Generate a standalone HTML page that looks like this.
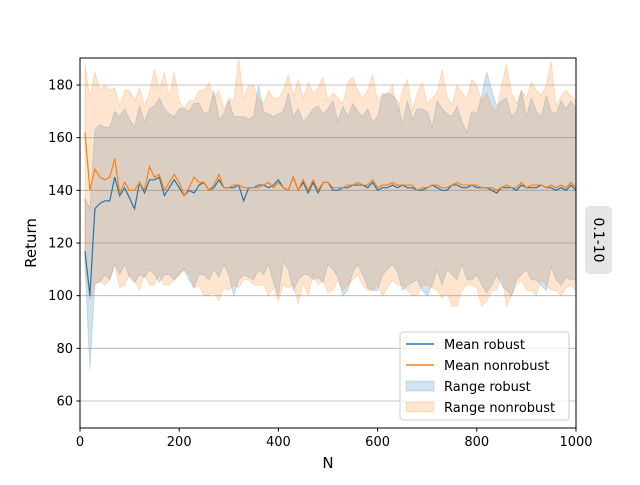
<!DOCTYPE html>
<html><head><meta charset="utf-8"><style>
body{margin:0;background:#fff;}
svg text{font-family:"DejaVu Sans","Liberation Sans",sans-serif;}
</style></head><body>
<svg id="chart" width="640" height="480" viewBox="0 0 640 480" xmlns="http://www.w3.org/2000/svg">
<g id="grid"></g>
<g id="bands"></g>
<g id="lines"></g>
<rect x="80" y="58" width="496" height="370" fill="none" stroke="#000" stroke-width="1"/>
<g id="axes"></g>
<text x="328" y="468" font-size="15" text-anchor="middle">N</text>
<text transform="translate(36,243) rotate(-90)" font-size="15" text-anchor="middle">Return</text>
<g>
<rect x="400" y="332" width="169" height="88" rx="3" fill="#fff" fill-opacity="0.8" stroke="#ccc"/>
<line x1="406" y1="344" x2="434" y2="344" stroke="#1f77b4" stroke-width="1.5"/>
<text x="444" y="349" font-size="13">Mean robust</text>
<line x1="406" y1="365" x2="434" y2="365" stroke="#ff7f0e" stroke-width="1.5"/>
<text x="444" y="370" font-size="13">Mean nonrobust</text>
<rect x="406" y="381" width="28" height="10" fill="#1f77b4" fill-opacity="0.2" stroke="#1f77b4" stroke-opacity="0.2"/>
<text x="444" y="391" font-size="13">Range robust</text>
<rect x="406" y="402" width="28" height="10" fill="#ff7f0e" fill-opacity="0.2" stroke="#ff7f0e" stroke-opacity="0.2"/>
<text x="444" y="412" font-size="13">Range nonrobust</text>
</g>
<g>
<rect x="585" y="206" width="27" height="68" rx="5" fill="#e5e5e5"/>
<text transform="translate(594,240) rotate(90)" font-size="14" text-anchor="middle">0.1-10</text>
</g>
</svg>
<script>
const xTicks=[0,200,400,600,800,1000];
const yTicks=[60,80,100,120,140,160,180];
const meanRobust=[117,100,133,135,136,136,145,138,141,137,133,143,139,144,144,145,138,141,144,141,138,140,139,142,143,140,141,144,141,141,141,142,136,141,141,142,142,141,142,144,141,140,145,140,143,139,143,139,143,143,140,140,141,141,142,142,142,141,143,140,141,141,142,141,142,141,141,140,140,141,142,141,140,140,142,142,141,141,142,141,141,141,140,139,141,141,141,140,142,141,141,141,142,141,141,140,141,140,142,140];
const meanNonrobust=[162,140,148,145,144,145,152,139,143,140,140,143,140,149,145,146,140,143,146,143,138,141,145,143,143,140,142,146,141,141,142,142,141,141,141,141,142,143,141,143,141,140,145,140,144,140,144,140,143,143,141,141,141,142,142,143,142,142,144,141,142,142,143,142,142,142,142,140,141,141,142,142,141,141,142,143,142,142,142,142,141,141,141,140,141,142,141,141,143,141,142,142,142,141,142,141,142,141,143,141];
const upperRobust=[137,133,163,165,164,164,170,168,171,167,164,172,166,171,172,175,171,169,168,171,171,170,173,173,169,170,178,167,169,174,168,168,168,167,168,180,170,169,168,169,170,177,168,171,166,168,171,172,169,171,174,166,172,168,173,170,168,171,166,168,176,177,176,174,165,174,167,171,171,170,164,174,171,169,168,172,166,162,170,169,176,185,178,172,174,175,168,170,178,168,175,170,168,176,170,169,174,171,174,171];
const lowerRobust=[112,72,105,105,108,106,112,108,112,107,105,108,107,110,108,105,108,108,106,108,110,106,103,108,108,106,110,107,112,108,100,106,108,107,106,110,108,112,105,100,113,110,102,106,108,108,106,107,105,112,110,107,100,102,109,112,108,103,102,102,108,110,112,109,102,104,105,106,102,100,104,110,104,110,108,106,112,106,106,108,104,101,104,108,104,102,100,106,108,110,106,106,104,102,111,106,104,107,106,106];
const upperNonrobust=[188,175,185,178,180,178,179,172,178,178,174,179,172,177,186,178,185,175,185,174,171,174,174,178,178,181,175,178,171,175,174,190,175,180,180,175,173,178,175,175,178,184,176,182,175,181,177,179,183,174,177,175,173,181,183,178,175,178,184,174,177,176,180,170,178,182,170,177,181,173,175,177,186,176,172,180,177,175,182,180,174,177,172,170,180,188,177,173,178,175,181,178,176,180,189,172,176,178,176,174];
const lowerNonrobust=[112,98,104,106,104,106,112,103,104,108,106,102,108,104,104,108,104,104,106,108,110,108,103,104,100,100,101,98,103,102,104,103,106,106,104,104,104,100,103,98,104,103,104,97,105,100,108,104,106,101,102,106,102,104,106,108,104,102,102,104,100,103,106,104,104,102,100,100,104,104,103,102,99,101,96,96,102,104,104,103,96,98,102,102,108,96,100,104,106,102,102,100,106,104,102,102,100,103,104,102];
const NS='http://www.w3.org/2000/svg';
const X0=80,X1=576,Y0=401,Y1=85;
const xs=v=>X0+(v/1000)*(X1-X0);
const ys=v=>Y0+(v-60)/(180-60)*(Y1-Y0);
const Ns=meanRobust.map((_,i)=>(i+1)*10);
function mk(tag,attrs,parent){const e=document.createElementNS(NS,tag);for(const k in attrs)e.setAttribute(k,attrs[k]);parent.appendChild(e);return e;}
const grid=document.getElementById('grid'),axes=document.getElementById('axes');
yTicks.forEach(t=>{
  const g=mk('line',{x1:X0,x2:X1,y1:ys(t),y2:ys(t),stroke:'#b0b0b0','stroke-width':0.8},grid);
  
  
  mk('line',{x1:X0-3.5,x2:X0,y1:ys(t),y2:ys(t),stroke:'#000'},axes);
  const tx=mk('text',{x:X0-7,y:ys(t)+4.5,'font-size':13,'text-anchor':'end'},axes);
  tx.textContent=t;
  
  
});
xTicks.forEach(t=>{
  mk('line',{x1:xs(t),x2:xs(t),y1:428,y2:431.5,stroke:'#000'},axes);
  const tx=mk('text',{x:xs(t),y:446,'font-size':13,'text-anchor':'middle'},axes);
  tx.textContent=t;
  
  
});
function band(up,lo,col,name){
  let d='M'+Ns.map((n,i)=>xs(n)+','+ys(up[i])).join('L');
  for(let i=Ns.length-1;i>=0;i--)d+='L'+xs(Ns[i])+','+ys(lo[i]);
  const p=mk('path',{d:d+'Z',fill:col,'fill-opacity':0.2,stroke:col,'stroke-opacity':0.2},document.getElementById('bands'));
  
  
}
band(upperRobust,lowerRobust,'#1f77b4','range-robust');
band(upperNonrobust,lowerNonrobust,'#ff7f0e','range-nonrobust');
function line(vals,col,name){
  const p=mk('polyline',{points:Ns.map((n,i)=>xs(n)+','+ys(vals[i])).join(' '),fill:'none',stroke:col,'stroke-width':1.2},document.getElementById('lines'));
  
  
}
line(meanRobust,'#1f77b4','mean-robust-line');
line(meanNonrobust,'#ff7f0e','mean-nonrobust-line');
</script>
</body></html>
